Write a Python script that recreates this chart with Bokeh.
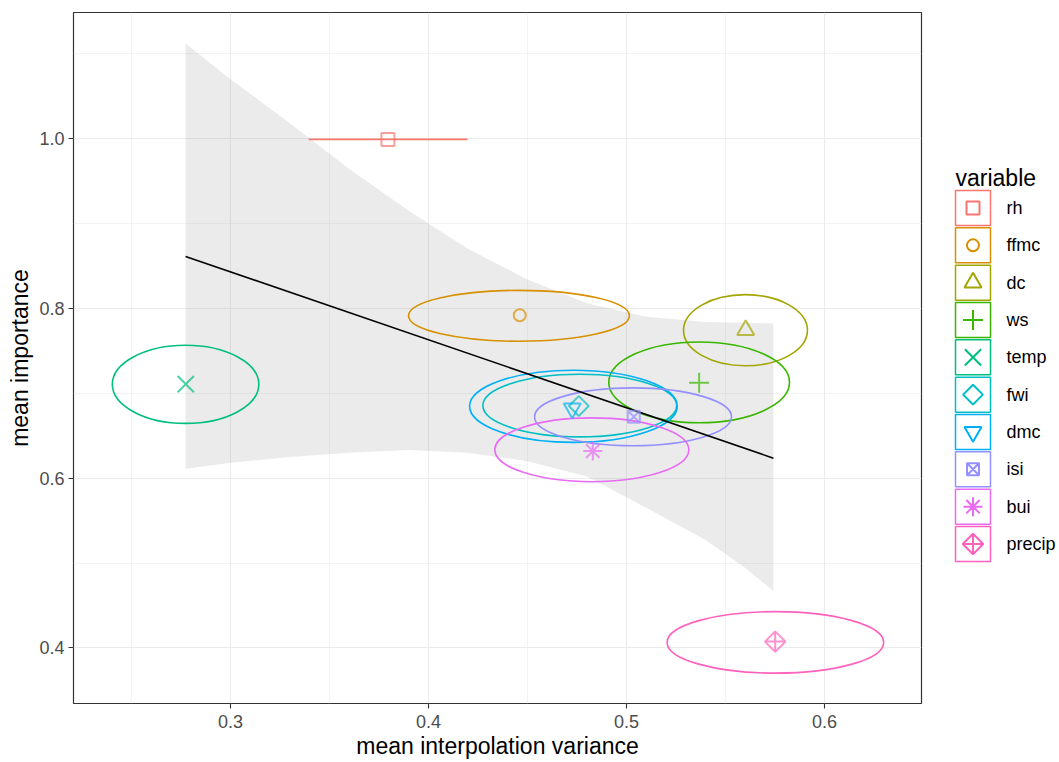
import math
from bokeh.plotting import figure
from bokeh.models import Range1d, FixedTicker, PrintfTickFormatter, ColumnDataSource
from bokeh.layouts import row
from bokeh.core.properties import value
from bokeh.embed import file_html
from bokeh.resources import INLINE

# ---------------- data ----------------
variables = ["rh", "ffmc", "dc", "ws", "temp", "fwi", "dmc", "isi", "bui", "precip"]
colors = ["#F8766D", "#D89000", "#A3A500", "#39B600", "#00BF7D",
          "#00BFC4", "#00B0F6", "#9590FF", "#E76BF3", "#FF62BC"]

mean_variance = [0.3795, 0.4461, 0.5602, 0.5367, 0.2774, 0.4759, 0.4726, 0.5037, 0.4830, 0.5751]
mean_importance = [0.9990, 0.7919, 0.7745, 0.7123, 0.7107, 0.6849, 0.6820, 0.6722, 0.6318, 0.4074]

# ellipse centres and full extents (width along x, height along y)
ell_cx = [0.3796, 0.4457, 0.5601, 0.5367, 0.2773, 0.4764, 0.4732, 0.5033, 0.4825, 0.5752]
ell_cy = [0.9990, 0.7912, 0.7742, 0.7128, 0.7105, 0.6855, 0.6846, 0.6722, 0.6334, 0.4065]
ell_w = [0.0803, 0.1116, 0.0626, 0.0913, 0.0740, 0.0979, 0.1049, 0.0995, 0.0980, 0.1094]
ell_h = [0.0003, 0.0600, 0.0839, 0.0952, 0.0921, 0.0738, 0.0851, 0.0682, 0.0752, 0.0725]

# linear fit and its confidence band
fit_x = [0.2773, 0.5742]
fit_y = [0.8612, 0.6235]
band_x = [0.2773, 0.30, 0.33, 0.36, 0.39, 0.42, 0.45, 0.48, 0.51, 0.54, 0.56, 0.5742]
band_upper = [1.112, 1.070, 1.018, 0.964, 0.915, 0.870, 0.834, 0.806, 0.790, 0.784, 0.783, 0.782]
band_lower = [0.611, 0.618, 0.625, 0.630, 0.633, 0.630, 0.620, 0.602, 0.565, 0.527, 0.494, 0.467]

x_ticks = [0.3, 0.4, 0.5, 0.6]
x_minor = [0.25, 0.35, 0.45, 0.55, 0.65]
y_ticks = [0.4, 0.6, 0.8, 1.0]
y_minor = [0.3, 0.5, 0.7, 0.9, 1.1]

x_title = "mean interpolation variance"
y_title = "mean importance"
legend_title = "variable"

# ---------------- styles ----------------
markers = ["square", "circle", "triangle", "cross", "x", "square",
           "inverted_triangle", "square_x", "asterisk", "square_x"]
angles = [0, 0, 0, 0, 0, math.pi / 4, 0, 0, 0, math.pi / 4]
sizes = [13, 12, 17, 20, 23, 14, 17, 12, 19, 14.5]

FONT = "Liberation Sans"
W_MAIN, W_LEG, H = 943, 116, 762
TOP, BOTTOM = 12, 59          # frame occupies page rows 12 .. 703

X0, X1 = 0.2207, 0.649
Y0, Y1 = 0.3345, 1.1485

p = figure(width=W_MAIN, height=H, output_backend="svg", toolbar_location=None,
           x_range=Range1d(X0, X1), y_range=Range1d(Y0, Y1),
           min_border_left=73, min_border_right=22,
           min_border_top=TOP, min_border_bottom=BOTTOM)
p.background_fill_color = "white"
p.border_fill_color = "white"
p.outline_line_color = "#333333"
p.outline_line_width = 1.2

p.xaxis.ticker = FixedTicker(ticks=x_ticks, minor_ticks=x_minor)
p.yaxis.ticker = FixedTicker(ticks=y_ticks, minor_ticks=y_minor)
p.xaxis.formatter = PrintfTickFormatter(format="%.1f")
p.yaxis.formatter = PrintfTickFormatter(format="%.1f")
for ax in (p.xaxis, p.yaxis):
    ax.axis_line_color = None
    ax.major_tick_line_color = "#333333"
    ax.major_tick_line_width = 1.1
    ax.major_tick_out = 5
    ax.major_tick_in = 0
    ax.minor_tick_line_color = None
    ax.major_label_text_font = FONT
    ax.major_label_text_font_size = "18px"
    ax.major_label_text_color = "#4D4D4D"
    ax.axis_label_text_font = FONT
    ax.axis_label_text_font_size = "23px"
    ax.axis_label_text_font_style = "normal"
    ax.axis_label_text_color = "black"
p.xaxis.major_label_standoff = 6
p.xaxis.axis_label_standoff = 2
p.yaxis.major_label_standoff = 4
p.yaxis.axis_label_standoff = 3
p.xaxis.axis_label = x_title
p.yaxis.axis_label = y_title

for g in (p.xgrid, p.ygrid):
    g.grid_line_color = "#EBEBEB"
    g.grid_line_width = 1.1
    g.minor_grid_line_color = "#EBEBEB"
    g.minor_grid_line_width = 0.6

# confidence band
p.patch(band_x + band_x[::-1], band_upper + band_lower[::-1],
        fill_color="#999999", fill_alpha=0.2, line_color=None)

# ellipses
ell_src = ColumnDataSource(dict(x=ell_cx, y=ell_cy, w=ell_w, h=ell_h, c=colors))
p.ellipse(x="x", y="y", width="w", height="h", source=ell_src,
          fill_color=None, line_color="c", line_width=1.6)

# fit line
p.line(fit_x, fit_y, line_color="black", line_width=1.6)

# points
pt_src = ColumnDataSource(dict(x=mean_variance, y=mean_importance, c=colors,
                               m=markers, a=angles, s=sizes))
p.scatter(x="x", y="y", marker="m", angle="a", size="s", source=pt_src,
          fill_color=None, line_color="c", line_width=2, line_alpha=0.7)

# ---------------- legend panel (1 data unit = 1 page pixel) ----------------
leg = figure(width=W_LEG, height=H, output_backend="svg", toolbar_location=None,
             x_range=Range1d(0, W_LEG), y_range=Range1d(H - BOTTOM, TOP),
             x_axis_type=None, y_axis_type=None,
             min_border_left=0, min_border_right=0,
             min_border_top=TOP, min_border_bottom=BOTTOM)
leg.outline_line_color = None
leg.background_fill_color = "white"
leg.border_fill_color = "white"
leg.xgrid.visible = False
leg.ygrid.visible = False

pitch = 37.33
key_y = [207.5 + i * pitch for i in range(len(variables))]
key_x = [29.5] * len(variables)
lab_x = [63] * len(variables)

leg.text(x=[12], y=[177], text=[legend_title], text_font=value(FONT),
         text_font_size="23px", text_baseline="alphabetic", text_color="black")
leg.rect(x=key_x, y=key_y, width=35, height=35, width_units="screen", height_units="screen",
         fill_color=None, line_color=colors, line_width=1.5)
leg_src = ColumnDataSource(dict(x=key_x, y=key_y, c=colors, m=markers, a=angles, s=sizes))
leg.scatter(x="x", y="y", marker="m", angle="a", size="s", source=leg_src,
            fill_color=None, line_color="c", line_width=2)
leg.text(x=lab_x, y=key_y, text=variables, text_font=value(FONT),
         text_font_size="18px", text_baseline="middle", text_color="black")

layout = row(p, leg)
open("out.html", "w").write(file_html(layout, INLINE))
